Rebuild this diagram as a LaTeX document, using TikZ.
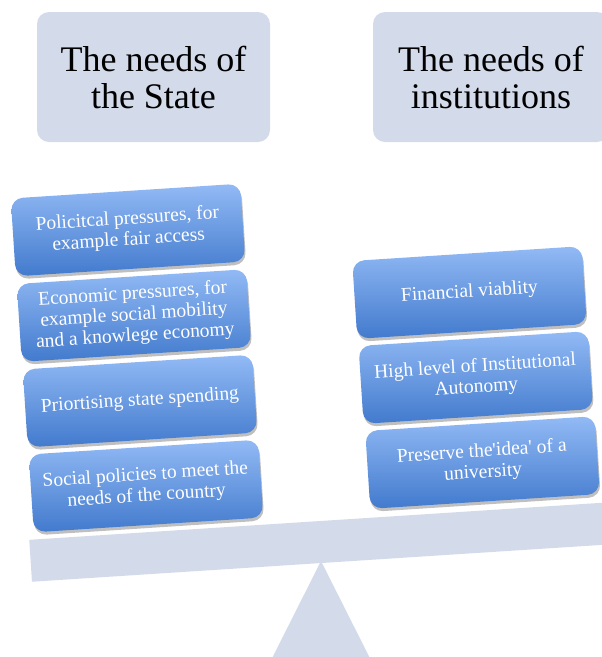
\documentclass[tikz,border=0pt]{standalone}
\usepackage{fontspec}
\setmainfont{Liberation Serif}
\usetikzlibrary{shadows}
\definecolor{slate}{RGB}{211,218,233}
\definecolor{boxtop}{RGB}{146,186,245}
\definecolor{boxbot}{RGB}{66,122,205}

\begin{document}
\begin{tikzpicture}[
		x=1pt, y=-1pt,
		every node/.style={rounded corners=12pt, align=center, inner sep=2pt},
		needbox/.style={fill=slate, minimum width=233pt, minimum height=130pt, font=\fontsize{36}{37}\selectfont},
		itembox/.style={top color=boxtop, bottom color=boxbot, text=white, rotate=3.7,
			minimum width=230pt, minimum height=78pt, font=\fontsize{19.5}{21}\selectfont,
			drop shadow={shadow xshift=1pt, shadow yshift=-3pt, fill=black, opacity=0.25}}
	]
  \clip (0,0) rectangle (602,657);
  \node (state) [needbox] at (153.5,77) {The needs of\\the State};
  \node (inst) [needbox, minimum width=236pt] at (491,77) {The needs of\\institutions};
  \node (beam) [fill=slate, rounded corners=0pt, rotate=3.7, minimum width=582pt, minimum height=42pt, inner sep=0pt] at (321,542) {};
  \fill[slate] (321,561) -- (256,690) -- (386,690) -- cycle;
  \node (pol) [itembox] at (128,230) {Policitcal pressures, for\\example fair access};
  \node (econ) [itembox] at (134,315.5) {Economic pressures, for\\example social mobility\\and a knowlege economy};
  \node (spend) [itembox] at (140,401) {Priortising state spending};
  \node (social) [itembox] at (146,486) {Social policies to meet the\\needs of the country};
  \node (fin) [itembox] at (469.5,292.5) {Financial viablity};
  \node (auton) [itembox] at (475.8,377.5) {High level of Institutional\\Autonomy};
  \node (idea) [itembox] at (482.5,462.5) {Preserve the\textquotesingle idea\textquotesingle{} of a\\university};
\end{tikzpicture}
\end{document}
